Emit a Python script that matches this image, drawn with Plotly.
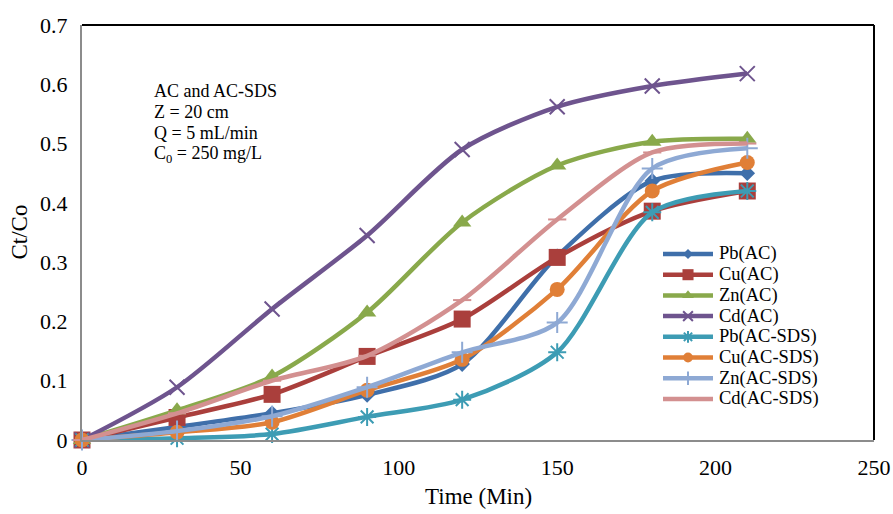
import plotly.graph_objects as go

time = [0, 30, 60, 90, 120, 150, 180, 210]

pb_ac = [0, 0.022, 0.045, 0.076, 0.128, 0.31, 0.437, 0.45]
cu_ac = [0, 0.038, 0.077, 0.141, 0.204, 0.308, 0.386, 0.42]
zn_ac = [0, 0.05, 0.107, 0.215, 0.367, 0.463, 0.503, 0.508]
cd_ac = [0, 0.089, 0.221, 0.345, 0.49, 0.562, 0.597, 0.618]
pb_sds = [0, 0.003, 0.01, 0.039, 0.068, 0.148, 0.384, 0.42]
cu_sds = [0, 0.013, 0.03, 0.084, 0.136, 0.254, 0.42, 0.468]
zn_sds = [0, 0.015, 0.04, 0.089, 0.148, 0.198, 0.458, 0.492]
cd_sds = [0, 0.045, 0.1, 0.142, 0.236, 0.372, 0.485, 0.5]

names = ["Pb(AC)", "Cu(AC)", "Zn(AC)", "Cd(AC)",
         "Pb(AC-SDS)", "Cu(AC-SDS)", "Zn(AC-SDS)", "Cd(AC-SDS)"]
series = [pb_ac, cu_ac, zn_ac, cd_ac, pb_sds, cu_sds, zn_sds, cd_sds]
colors = ["#3F6FAA", "#AA3F3C", "#89A94B", "#6E548E",
          "#3D9CB4", "#E07F37", "#8EA9D4", "#D39090"]
symbols = ["diamond", "square", "triangle-up", "x-thin",
           "asterisk-open", "circle", "cross-thin", "line-ew"]
sizes = [12, 17, 16, 15, 15, 15, 15, 13]

info_lines = ["AC and AC-SDS", "Z = 20 cm", "Q = 5 mL/min",
              "C<sub>0</sub> = 250 mg/L"]

SERIF = "Liberation Serif"
# plot area in pixels: x 82..874, y 25..440
PL, PR, PT, PB = 82, 874, 25, 440
PW, PH = PR - PL, PB - PT


def marker_of(c, s, sz, scale=1.0):
    thin = s in ("x-thin", "asterisk-open", "cross-thin", "line-ew")
    return dict(symbol=s, size=sz * scale, color=c,
                line=dict(color=c, width=2 if thin else 0))


fig = go.Figure()
for name, ys, c, s, sz in zip(names, series, colors, symbols, sizes):
    fig.add_trace(go.Scatter(
        x=time, y=ys, name=name, mode="lines+markers",
        line=dict(color=c, width=4.5, shape="spline", smoothing=0.8),
        marker=marker_of(c, s, sz),
        cliponaxis=False, showlegend=False,
    ))

# legend drawn on a hidden pixel-unit overlay axis
LEG_X0, LEG_X1, LEG_TXT, LEG_Y0, LEG_DY = 663, 713, 717, 254, 20.7
for i, (name, c, s, sz) in enumerate(zip(names, colors, symbols, sizes)):
    py = LEG_Y0 + LEG_DY * i
    fig.add_trace(go.Scatter(
        x=[LEG_X0 - PL, LEG_X1 - PL], y=[py - PT, py - PT], mode="lines",
        line=dict(color=c, width=4.5), xaxis="x2", yaxis="y2",
        showlegend=False, hoverinfo="skip",
    ))
    fig.add_trace(go.Scatter(
        x=[(LEG_X0 + LEG_X1) / 2 - PL], y=[py - PT], mode="markers",
        marker=marker_of(c, s, sz, 0.65), xaxis="x2", yaxis="y2",
        showlegend=False, hoverinfo="skip",
    ))
    fig.add_annotation(
        x=(LEG_TXT - PL) / PW, y=(PB - py) / PH, xref="paper", yref="paper",
        xanchor="left", yanchor="middle", text=name, showarrow=False,
        font=dict(family=SERIF, size=18.5, color="black"),
    )

for i, txt in enumerate(info_lines):
    py = 91 + 21 * i
    fig.add_annotation(
        x=(152 - PL) / PW, y=(PB - py) / PH, xref="paper", yref="paper",
        xanchor="left", yanchor="middle", text=txt, showarrow=False,
        font=dict(family=SERIF, size=18, color="black"),
    )

fig.add_annotation(x=0.5, y=(PB - 496) / PH, xref="paper", yref="paper",
                   xanchor="center", yanchor="middle", text="Time (Min)",
                   showarrow=False, font=dict(family=SERIF, size=23, color="black"))
fig.add_annotation(x=(19 - PL) / PW, y=0.5, xref="paper", yref="paper",
                   xanchor="center", yanchor="middle", text="Ct/Co", textangle=-90,
                   showarrow=False, font=dict(family=SERIF, size=23, color="black"))

# black frame on top and right
fig.add_shape(type="line", xref="paper", yref="paper", x0=0, x1=1, y0=1, y1=1,
              line=dict(color="black", width=2))
fig.add_shape(type="line", xref="paper", yref="paper", x0=1, x1=1, y0=0, y1=1,
              line=dict(color="black", width=2))

fig.update_layout(
    width=893, height=514,
    margin=dict(l=PL, r=893 - PR, t=PT, b=514 - PB),
    paper_bgcolor="white", plot_bgcolor="white",
    font=dict(family=SERIF, size=22, color="black"),
    showlegend=False,
    xaxis=dict(range=[0, 250], dtick=50, showgrid=False, zeroline=False,
               showline=True, linecolor="#8C8C8C", linewidth=2,
               ticks="", ticklabelstandoff=7, automargin=False),
    yaxis=dict(range=[0, 0.7], dtick=0.1, showgrid=False, zeroline=False,
               showline=True, linecolor="#8C8C8C", linewidth=2,
               ticks="", ticklabelstandoff=8, tickformat="~g", automargin=False),
    xaxis2=dict(range=[0, PW], overlaying="x", visible=False, fixedrange=True),
    yaxis2=dict(range=[PH, 0], overlaying="y", visible=False, fixedrange=True),
)

fig.write_html("out.html")
